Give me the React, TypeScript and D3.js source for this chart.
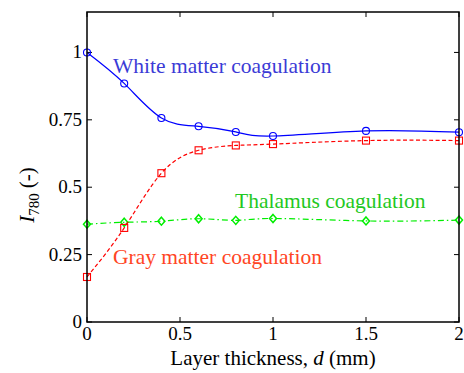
import React from 'react';
import * as d3 from 'd3';

const thickness = [0, 0.2, 0.4, 0.6, 0.8, 1.0, 1.5, 2.0];
const whiteMatter = [1.0, 0.885, 0.757, 0.726, 0.705, 0.69, 0.709, 0.704];
const grayMatter = [0.167, 0.349, 0.552, 0.637, 0.655, 0.66, 0.673, 0.673];
const thalamus = [0.363, 0.37, 0.374, 0.383, 0.377, 0.384, 0.375, 0.378];
const xTicks = [0, 0.5, 1, 1.5, 2];
const yTicks = [0, 0.25, 0.5, 0.75, 1];

const FONT = '"Liberation Serif", "Times New Roman", Tinos, serif';
const left = 87, right = 459, top = 12, bottom = 322;

const App = () => {
  const x = d3.scaleLinear().domain([0, 2]).range([left, right]);
  const y = d3.scaleLinear().domain([0, 1.15]).range([bottom, top]);
  const line = d3.line<number>().x((_, i) => x(thickness[i])).y(d => y(d)).curve(d3.curveNatural);

  const series = [
    { vals: thalamus, color: '#00ee00', dash: '6,3,1.5,3', marker: 'diamond' },
    { vals: grayMatter, color: '#ff0000', dash: '4,2.5', marker: 'square' },
    { vals: whiteMatter, color: '#0000ff', dash: undefined, marker: 'circle' },
  ];

  const labels = [
    { text: 'White matter coagulation', x: 113, y: 73, color: '#3b3bd6' },
    { text: 'Thalamus coagulation', x: 235, y: 208, color: '#22c822' },
    { text: 'Gray matter coagulation', x: 113, y: 264, color: '#ff4524' },
  ];

  const marker = (kind: string, cx: number, cy: number, color: string, key: string) => {
    if (kind === 'circle')
      return <circle key={key} cx={cx} cy={cy} r={3.5} fill="none" stroke={color} strokeWidth={1.1} />;
    if (kind === 'square')
      return <rect key={key} x={cx - 3.5} y={cy - 3.5} width={7} height={7} fill="none" stroke={color} strokeWidth={1.1} />;
    return <path key={key} d={`M${cx},${cy - 4}L${cx + 3.5},${cy}L${cx},${cy + 4}L${cx - 3.5},${cy}Z`}
      fill="none" stroke={color} strokeWidth={1.5} />;
  };

  return (
    <svg width={464} height={373} fontFamily={FONT} style={{ position: 'absolute', left: 0, top: 0 }}>
      {/* inward ticks on all four sides */}
      <g stroke="#000" strokeWidth={1}>
        {xTicks.map(t => (
          <g key={'xt' + t}>
            <line x1={x(t)} x2={x(t)} y1={bottom} y2={bottom - 5} />
            <line x1={x(t)} x2={x(t)} y1={top} y2={top + 5} />
          </g>
        ))}
        {yTicks.map(t => (
          <g key={'yt' + t}>
            <line x1={left} x2={left + 5} y1={y(t)} y2={y(t)} />
            <line x1={right} x2={right - 5} y1={y(t)} y2={y(t)} />
          </g>
        ))}
      </g>
      {xTicks.map(t => (
        <text key={'xl' + t} x={x(t)} y={bottom + 18} textAnchor="middle" fontSize={19}>{String(t)}</text>
      ))}
      {yTicks.map(t => (
        <text key={'yl' + t} x={left - 5} y={y(t) + 6} textAnchor="end" fontSize={19}>{String(t)}</text>
      ))}

      {series.map((s, si) => (
        <g key={'s' + si}>
          <path d={line(s.vals) ?? ''} fill="none" stroke={s.color} strokeWidth={1.2} strokeDasharray={s.dash} />
          {s.vals.map((v, i) => marker(s.marker, x(thickness[i]), y(v), s.color, `m${si}-${i}`))}
        </g>
      ))}

      <rect x={left} y={top} width={right - left} height={bottom - top} fill="none" stroke="#000" strokeWidth={1.5} />

      {labels.map(l => (
        <text key={l.text} x={l.x} y={l.y} fontSize={21.5} fill={l.color}>{l.text}</text>
      ))}

      <text x={273} y={365} textAnchor="middle" fontSize={21}>
        Layer thickness, <tspan fontStyle="italic">d</tspan> (mm)
      </text>
      <text transform="translate(34,195) rotate(-90)" textAnchor="middle" fontSize={21}>
        <tspan fontStyle="italic">I</tspan>
        <tspan fontSize={15} dy={5}>780</tspan>
        <tspan dy={-5}> (-)</tspan>
      </text>
    </svg>
  );
};

export default App;
